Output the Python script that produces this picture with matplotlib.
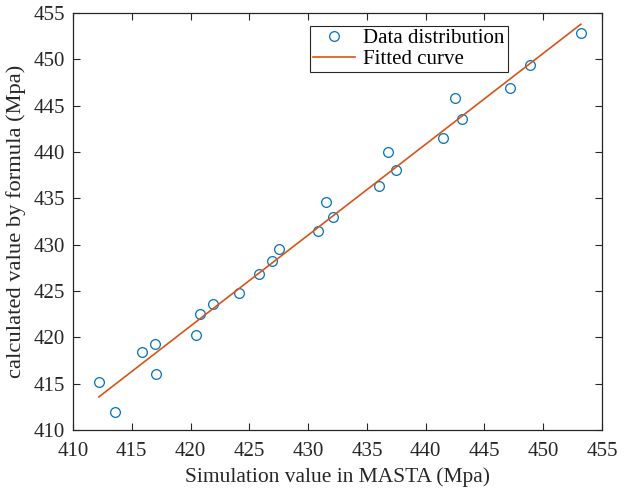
import numpy as np
from matplotlib import pyplot as plt

plt.rcParams['font.family'] = ['Liberation Serif', 'DejaVu Serif']

# simulated values (MASTA) and formula values
sim_vals = [412.2, 413.6, 415.9, 417.0, 417.1, 420.5, 420.8, 421.9, 424.1, 425.8,
            426.9, 427.5, 430.8, 431.5, 432.1, 436.0, 436.8, 437.5, 441.5, 442.5,
            443.1, 447.2, 448.9, 453.2]
calc_vals = [415.2, 411.9, 418.4, 419.3, 416.0, 420.2, 422.5, 423.6, 424.8, 426.8,
             428.2, 429.5, 431.5, 434.6, 433.0, 436.3, 440.0, 438.1, 441.5, 445.8,
             443.6, 446.9, 449.4, 452.8]
# fitted line (slope, intercept)
fit_k, fit_b = 0.981, 9.2

x = np.array(sim_vals)
y = np.array(calc_vals)
xf = np.array([x.min(), x.max()])
yf = fit_k * xf + fit_b

fig = plt.figure(figsize=(6.25, 4.93), dpi=100)
ax = fig.add_axes([0.1168, 0.1278, 0.8464, 0.8458])
ax.plot(x, y, 'o', mfc='none', mec='#0072BD', ms=7, mew=0.9, label='Data distribution')
ax.plot(xf, yf, '-', color='#D95319', lw=1.2, label='Fitted curve')

ax.set_xlim(410, 455)
ax.set_ylim(410, 455)
ax.set_xticks(np.arange(410, 456, 5))
ax.set_yticks(np.arange(410, 456, 5))
ax.tick_params(direction='in', top=True, right=True, length=5, width=0.8,
               labelsize=15, colors='#262626')
ax.tick_params(axis='x', pad=9)
ax.tick_params(axis='y', pad=6)
for s in ax.spines.values():
    s.set_color('#262626')
    s.set_linewidth(0.9)

ax.set_xlabel('Simulation value in MASTA (Mpa)', fontsize=15.5, color='#262626', labelpad=4)
ax.set_ylabel('calculated value by formula (Mpa)', fontsize=16.2, color='#262626', labelpad=5)

leg = ax.legend(loc='upper left', bbox_to_anchor=(0.448, 0.97), fontsize=15,
                fancybox=False, edgecolor='#262626', framealpha=1,
                handlelength=2.0, handletextpad=0.4, borderpad=0.15,
                labelspacing=0.05, borderaxespad=0)
leg.get_frame().set_linewidth(0.8)

plt.savefig('out.png', dpi=100)
